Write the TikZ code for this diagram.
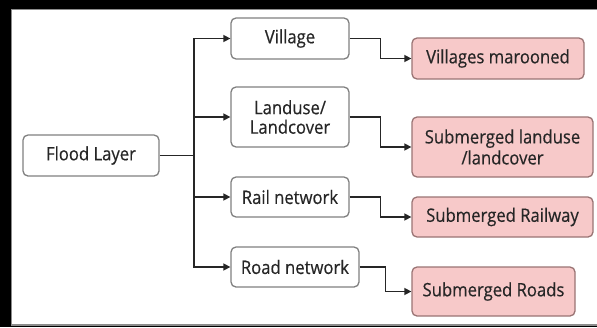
\documentclass[tikz,border=0pt]{standalone}
\usepackage{fontspec}
\setmainfont[FakeStretch=0.9, FakeBold=0.4]{Open Sans}
\usetikzlibrary{arrows.meta}
\definecolor{ink}{HTML}{262626}
\definecolor{boxline}{HTML}{808080}
\definecolor{pinkfill}{HTML}{F7C9C9}
\definecolor{pinkline}{HTML}{9A7474}
\definecolor{frameline}{HTML}{8C8C8C}
\tikzset{
  layerbox/.style={draw=boxline, line width=1.3pt, fill=white, rounded corners=5pt,
    align=center, text=ink, inner sep=0pt, font=\fontsize{18.5}{19.5}\selectfont},
  resultbox/.style={draw=pinkline, line width=1.3pt, fill=pinkfill, rounded corners=5pt,
    align=center, text=ink, inner sep=0pt, font=\fontsize{18.5}{21}\selectfont},
  link/.style={draw=ink, line width=1.5pt},
  arr/.style={link, -{Triangle[length=7pt,width=7pt]}}
}
\begin{document}
\begin{tikzpicture}[x=1pt,y=-1pt]
\useasboundingbox (0,0) rectangle (597,327);
% dark surround and white panel
\fill[black] (0,0) rectangle (597,327);
\filldraw[fill=white, draw=frameline, line width=1.2pt] (11.5,9.5) rectangle (600,325);

% source layer
\node[layerbox, minimum width=136pt, minimum height=41pt] (flood) at (91,155.5) {Flood Layer};

% input layers
\node[layerbox, minimum width=118pt, minimum height=41pt] (village) at (290,38.5) {Village};
\node[layerbox, minimum width=118pt, minimum height=60pt] (landuse) at (290,117) {Landuse/\\Landcover};
\node[layerbox, minimum width=118pt, minimum height=40pt] (rail) at (290,197) {Rail network};
\node[layerbox, minimum width=128pt, minimum height=40pt] (road) at (295,267) {Road network};

% results
\node[resultbox, minimum width=172pt, minimum height=41pt] (vm) at (498,58.5) {Villages marooned};
\node[resultbox, minimum width=181pt, minimum height=60pt] (sl) at (502.5,147) {Submerged landuse\\/landcover};
\node[resultbox, minimum width=181pt, minimum height=40pt] (sr) at (502.5,217) {Submerged Railway};
\node[resultbox, minimum width=163pt, minimum height=49pt] (sroad) at (493.5,291.5) {Submerged Roads};

% branching trunk
\coordinate (trunk) at (194,155.5);
\draw[link] (flood.east) -- (trunk);
\draw[arr] (trunk) |- (village.west);
\draw[arr] (trunk) |- (landuse.west);
\draw[arr] (trunk) |- (rail.west);
\draw[arr] (trunk) |- (road.west);

% overlay connectors
\draw[arr] (village.east) -- ++(31,0) |- (vm.west);
\draw[arr] (landuse.east) -- ++(31,0) |- (sl.west);
\draw[arr] (rail.east) -- ++(31,0) |- (sr.west);
\draw[arr] (road.east) -- ++(26,0) |- (sroad.west);
\end{tikzpicture}
\end{document}
